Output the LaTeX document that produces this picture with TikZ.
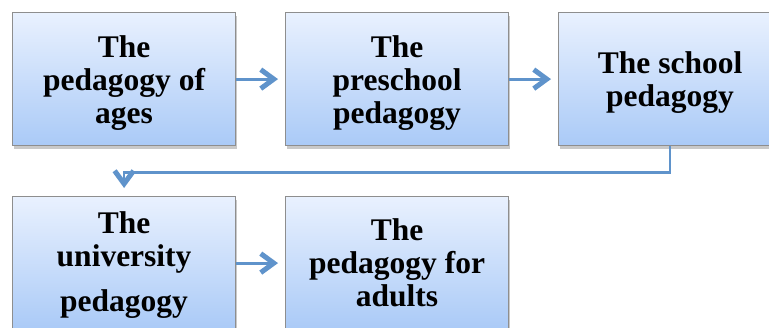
\documentclass[tikz,border=0pt]{standalone}
\usepackage{fontspec}
\setmainfont{Liberation Serif}
\usetikzlibrary{arrows.meta,shadows,positioning}
\definecolor{boxtop}{HTML}{E9F1FE}
\definecolor{boxbot}{HTML}{AACAF7}
\definecolor{boxline}{HTML}{8E8E8E}
\definecolor{arrowc}{HTML}{5F93CB}
\tikzset{
  stagebox/.style={rectangle, draw=boxline, line width=1.2pt,
    top color=boxtop, bottom color=boxbot,
    minimum width=223pt, minimum height=133pt, inner sep=0pt,
    drop shadow={shadow xshift=1.5pt, shadow yshift=-3pt, opacity=0.35, fill=black!60}},
  stagetext/.style={align=center, inner sep=0pt,
    font=\fontsize{31.5pt}{33pt}\selectfont\bfseries},
  flow/.style={draw=arrowc, line width=3pt,
    -{Straight Barb[length=13pt,width=19pt,line width=5pt]}},
  elbow/.style={draw=arrowc, line width=2.6pt,
    -{Straight Barb[length=13pt,width=19pt,line width=5pt]}}
}
\begin{document}
\begin{tikzpicture}[x=1pt,y=1pt]
\useasboundingbox (0,0) rectangle (769,-327);
\clip (0,0) rectangle (769,-327);
\fill[white] (0,0) rectangle (769,-327);
\node[stagebox, anchor=north west] (b1) at (12,-12) {};
\node[stagebox, anchor=north west] (b2) at (285,-12) {};
\node[stagebox, anchor=north west] (b3) at (558,-12) {};
\node[stagebox, anchor=north west] (b4) at (12,-196) {};
\node[stagebox, anchor=north west] (b5) at (285,-196) {};
\node[stagetext] (t1) at ([yshift=-3.5pt]b1.center) {The\\pedagogy of\\ages};
\node[stagetext] (t2) at ([yshift=-3.5pt]b2.center) {The\\preschool\\pedagogy};
\node[stagetext] (t3) at ([yshift=-3pt]b3.center) {The school\\pedagogy};
\node[stagetext] (t4) at ([yshift=-2pt]b4.center) {The\\university\\[12pt]pedagogy};
\node[stagetext] (t5) at (b5.center) {The\\pedagogy for\\adults};
\draw[flow, shorten >=7pt] (b1.east) -- (b2.west);
\draw[flow, shorten >=7pt] (b2.east) -- (b3.west);
\draw[flow, shorten >=7pt] (b4.east) -- (b5.west);
\coordinate (c1) at ([yshift=-26pt]b3.south);
\coordinate (c2) at (b4.north |- c1);
\draw[elbow, shorten >=8pt] (b3.south) -- (c1) -- (c2) -- (b4.north);
\end{tikzpicture}
\end{document}
